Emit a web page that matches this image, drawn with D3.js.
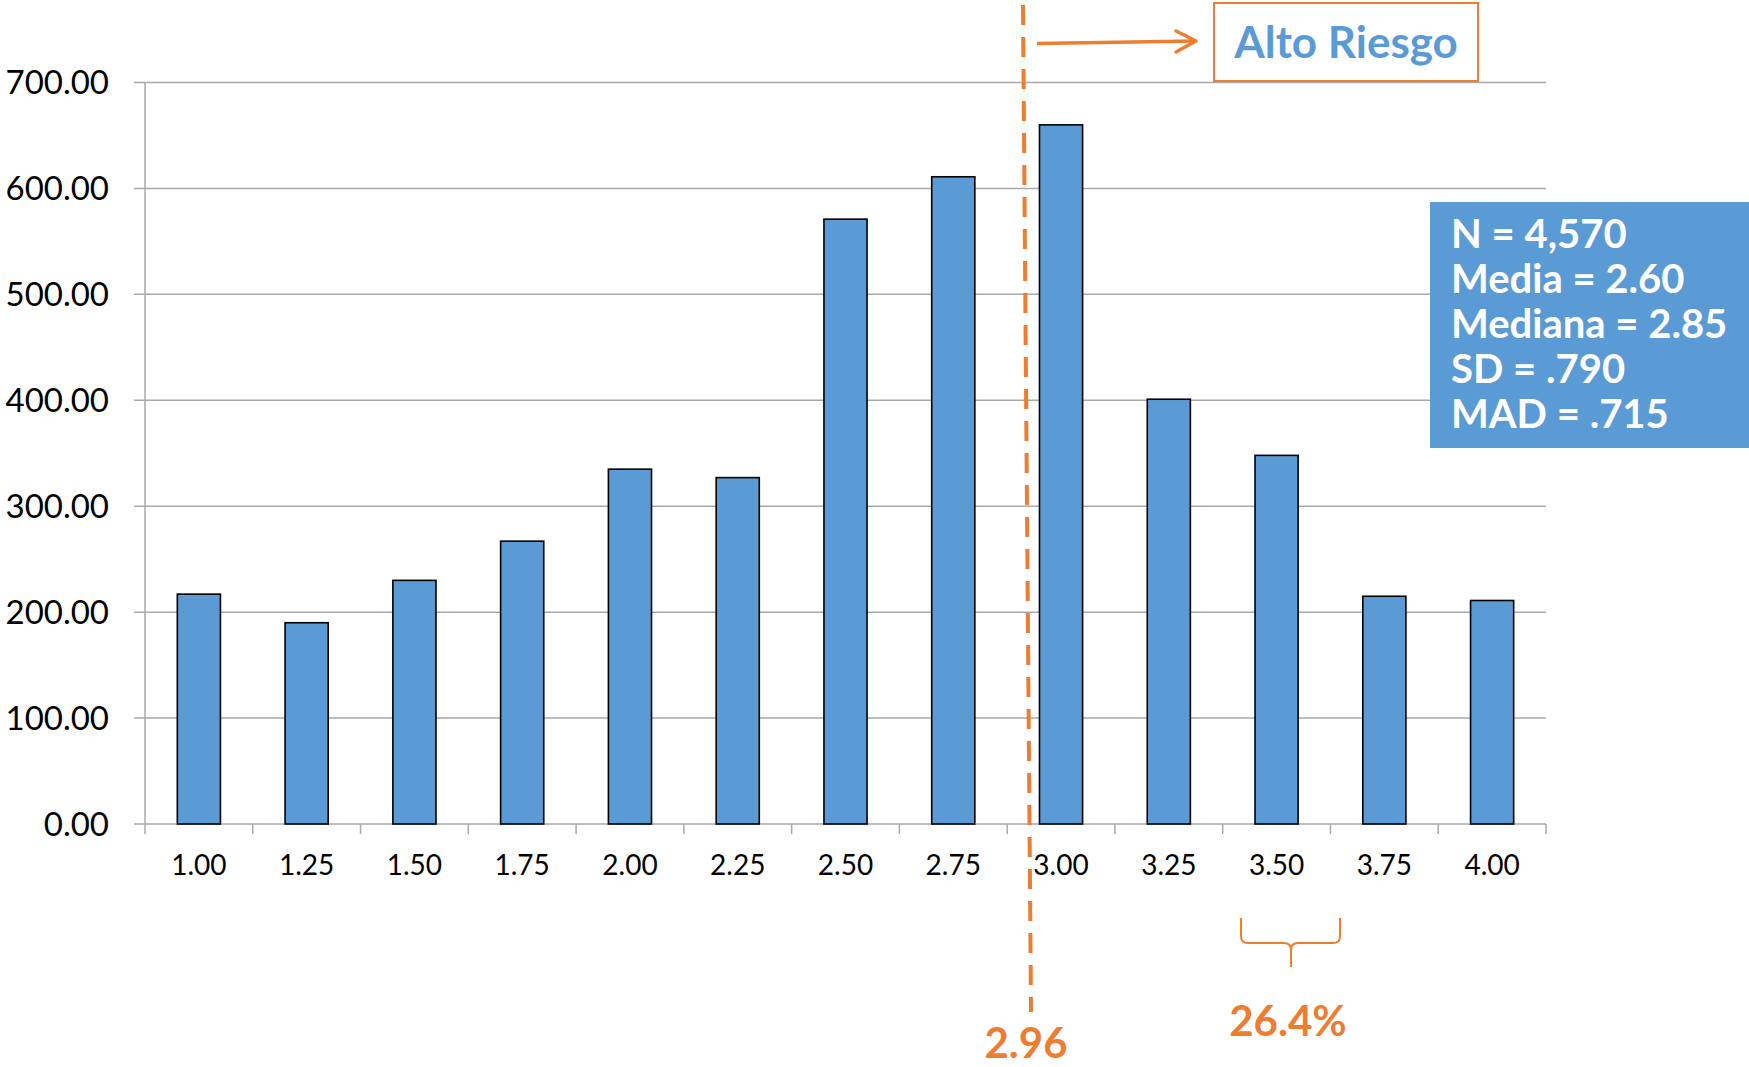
<!DOCTYPE html>
<html><head><meta charset="utf-8">
<script src="https://cdn.jsdelivr.net/npm/d3@7"></script>
<style>body{margin:0;background:#fff}svg{display:block}</style>
</head><body>
<svg id="c" width="1749" height="1067"></svg>
<script>
const categories = ["1.00","1.25","1.50","1.75","2.00","2.25","2.50","2.75","3.00","3.25","3.50","3.75","4.00"];
const counts = [217,190,230,267,335,327,571,611,660,401,348,215,211];
const yTicks = [0,100,200,300,400,500,600,700];
const statsLines = ["N = 4,570","Media = 2.60","Mediana = 2.85","SD = .790","MAD = .715"];
const cutLabel = "2.96";
const riskLabel = "Alto Riesgo";
const pctLabel = "26.4%";

const ORANGE = "#ED7D31", BLUE = "#5B9BD5", GRID = "#A9A9A9";
const svg = d3.select("#c");
svg.append("rect").attr("width",1749).attr("height",1067).attr("fill","#fff");

const L = 145, R = 1546, T = 82.5, B = 824;
const x = d3.scaleBand().domain(categories).range([L,R]).paddingInner(0.6).paddingOuter(0.3);
const y = d3.scaleLinear().domain([0,700]).range([B,T]);

// gridlines
svg.append("g").selectAll("line").data(yTicks).join("line")
  .attr("x1",L-11).attr("x2",R).attr("y1",d=>y(d)).attr("y2",d=>y(d))
  .attr("stroke",GRID).attr("stroke-width",1.5);
// y axis line
svg.append("line").attr("x1",L).attr("x2",L).attr("y1",T).attr("y2",B).attr("stroke",GRID).attr("stroke-width",1.5);
// y labels
svg.append("g").selectAll("text").data(yTicks).join("text")
  .attr("x",L-36).attr("y",d=>y(d)).attr("dy","0.35em").attr("text-anchor","end")
  .attr("font-family","Lato").attr("font-size",33).attr("fill","#000")
  .text(d=>d3.format(".2f")(d));
// x ticks at category boundaries
const bounds = d3.range(categories.length+1).map(i=>L + i*x.step());
svg.append("g").selectAll("line").data(bounds).join("line")
  .attr("x1",d=>d).attr("x2",d=>d).attr("y1",B).attr("y2",B+10)
  .attr("stroke",GRID).attr("stroke-width",1.5);

// bars
svg.append("g").selectAll("rect").data(counts).join("rect")
  .attr("x",(d,i)=>x(categories[i])).attr("width",x.bandwidth())
  .attr("y",d=>y(d)).attr("height",d=>B-y(d))
  .attr("fill",BLUE).attr("stroke","#000").attr("stroke-width",1.6);

// x labels
svg.append("g").selectAll("text").data(categories).join("text")
  .attr("x",d=>x(d)+x.bandwidth()/2).attr("y",875).attr("text-anchor","middle")
  .attr("font-family","Lato").attr("font-size",28).attr("fill","#000").text(d=>d);

// dashed cut line
svg.append("line").attr("x1",1023).attr("y1",5).attr("x2",1031).attr("y2",1012)
  .attr("stroke",ORANGE).attr("stroke-width",4).attr("stroke-dasharray","20,12");
svg.append("text").attr("x",1026).attr("y",1058).attr("text-anchor","middle")
  .attr("font-family","Lato").attr("font-weight","bold").attr("font-size",42).attr("fill",ORANGE).text(cutLabel);

// arrow
svg.append("path").attr("d","M1037,43.5 L1196,41").attr("stroke",ORANGE).attr("stroke-width",3.5).attr("fill","none");
svg.append("path").attr("d","M1176,31 L1196,41 L1176,52").attr("stroke",ORANGE).attr("stroke-width",3.5).attr("fill","none").attr("stroke-linecap","round").attr("stroke-linejoin","round");

// Alto Riesgo box
svg.append("rect").attr("x",1214).attr("y",3).attr("width",264).attr("height",78)
  .attr("fill","#fff").attr("stroke",ORANGE).attr("stroke-width",2);
svg.append("text").attr("x",1346).attr("y",58).attr("text-anchor","middle")
  .attr("font-family","Lato").attr("font-weight","bold").attr("font-size",44).attr("fill",BLUE).text(riskLabel);

// stats box
svg.append("rect").attr("x",1430).attr("y",202).attr("width",319).attr("height",246).attr("fill",BLUE);
svg.append("g").selectAll("text").data(statsLines).join("text")
  .attr("x",1451).attr("y",(d,i)=>248+i*45)
  .attr("font-family","Lato").attr("font-weight","bold").attr("font-size",40).attr("fill","#fff").text(d=>d);

// brace
svg.append("path").attr("d","M1241,918 L1241,936 Q1241,943 1248,943 L1284,943 Q1291,943 1291,950 L1291,967 M1291,950 Q1291,943 1298,943 L1333,943 Q1340,943 1340,936 L1340,918")
  .attr("stroke",ORANGE).attr("stroke-width",2).attr("fill","none");
svg.append("text").attr("x",1288).attr("y",1036).attr("text-anchor","middle")
  .attr("font-family","Lato").attr("font-weight","bold").attr("font-size",42).attr("fill",ORANGE).text(pctLabel);
</script>
</body></html>
